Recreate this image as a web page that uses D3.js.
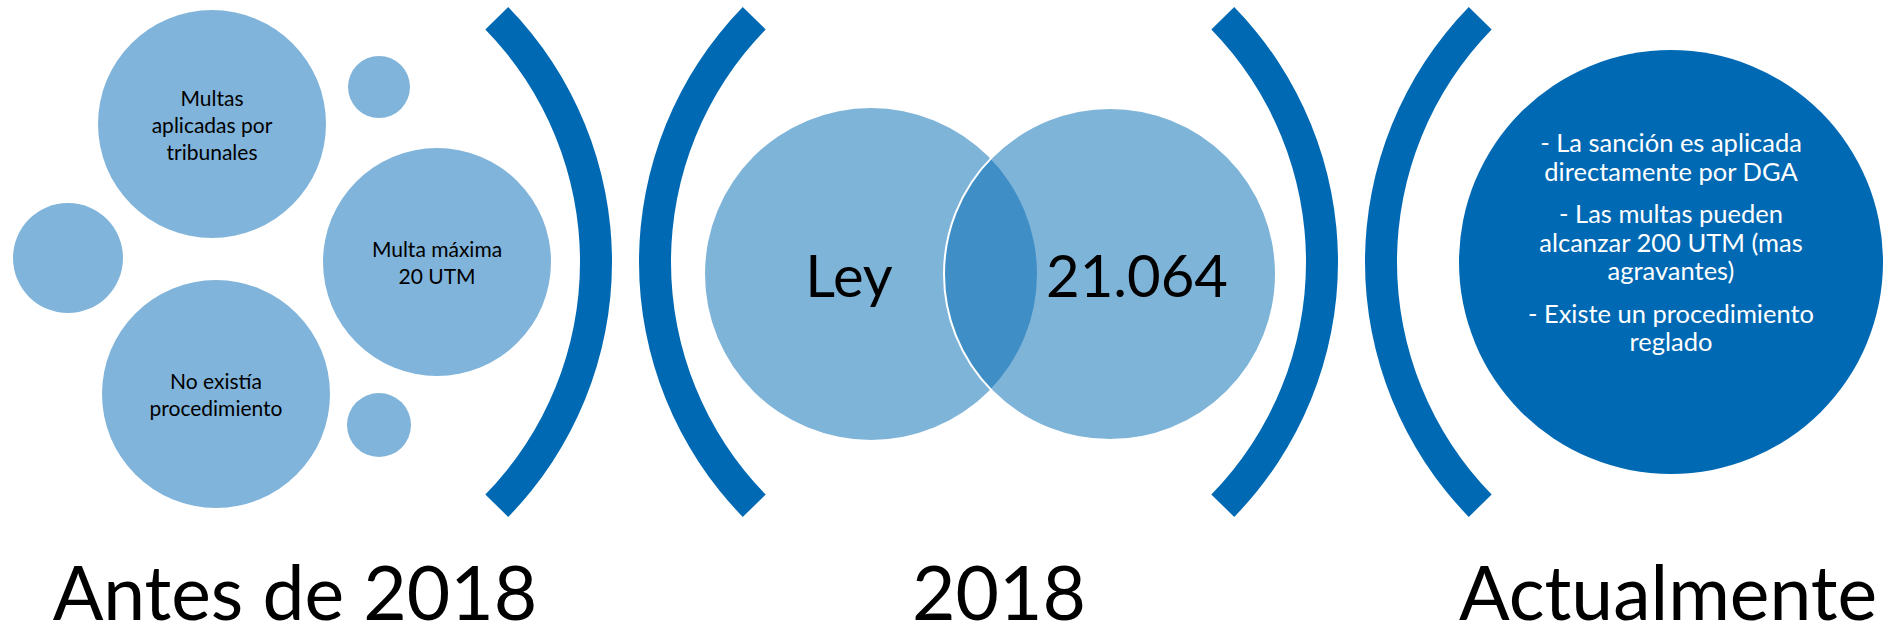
<!doctype html>
<html lang="es">
<head>
<meta charset="UTF-8">
<title>Ley 21.064 - antes y ahora</title>
<script src="https://cdn.jsdelivr.net/npm/d3@7"></script>
<style>
  html, body { margin: 0; padding: 0; background: #fff; }
  svg text { font-family: Lato, "Open Sans", sans-serif; }
</style>
</head>
<body>
<script>
// content
var stageLabels = ["Antes de 2018", "2018", "Actualmente"];
var beforeNotes = [
    ["Multas", "aplicadas por", "tribunales"],
    ["Multa máxima", "20 UTM"],
    ["No existía", "procedimiento"]
];
var lawWords = ["Ley", "21.064"];
var nowNotes = [
    ["- La sanción es aplicada", "directamente por DGA"],
    ["- Las multas pueden", "alcanzar 200 UTM (mas", "agravantes)"],
    ["- Existe un procedimiento", "reglado"]
];

var width = 1901, height = 636;
var dark = "#0069b4", light = "#80b4da";

var svg = d3.select("body").append("svg")
    .attr("width", width)
    .attr("height", height);

// columns: label centres
var stageX = d3.scaleOrdinal().domain(stageLabels).range([295, 999, 1668]);

// brackets
var bracketArc = d3.arc().innerRadius(333).outerRadius(365);
var half = 44.3 * Math.PI / 180;
var brackets = [
    {cx: 247, side: "right"},
    {cx: 1004, side: "left"},
    {cx: 973, side: "right"},
    {cx: 1730, side: "left"}
];
svg.append("g").selectAll("path")
    .data(brackets)
    .enter()
    .append("path")
        .attr("transform", function(d) { return "translate(" + d.cx + ",262)"; })
        .attr("fill", dark)
        .attr("d", function(d) {
            var mid = d.side === "right" ? Math.PI / 2 : 3 * Math.PI / 2;
            return bracketArc({startAngle: mid - half, endAngle: mid + half});
        });

// before 2018: bubbles
var bubbles = [
    {x: 212, y: 124, r: 114, note: 0},
    {x: 379, y: 87, r: 31},
    {x: 68, y: 258, r: 55},
    {x: 437, y: 262, r: 114, note: 1},
    {x: 216, y: 394, r: 114, note: 2},
    {x: 379, y: 425, r: 32}
];
var bg = svg.append("g");
bg.selectAll("circle")
    .data(bubbles)
    .enter()
    .append("circle")
        .attr("cx", function(d) { return d.x; })
        .attr("cy", function(d) { return d.y; })
        .attr("r", function(d) { return d.r; })
        .attr("fill", light);

bubbles.filter(function(d) { return d.note !== undefined; }).forEach(function(b) {
    var lines = beforeNotes[b.note];
    var lh = 27;
    bg.selectAll(null)
        .data(lines)
        .enter()
        .append("text")
            .attr("x", b.x)
            .attr("y", function(d, i) { return b.y + (i - (lines.length - 1) / 2) * lh; })
            .attr("text-anchor", "middle")
            .attr("dominant-baseline", "central")
            .attr("font-size", 21)
            .attr("fill", "#000")
            .text(function(d) { return d; });
});

// 2018: venn
var venn = [{x: 871, word: 0, tx: 849}, {x: 1110, word: 1, tx: 1137}];
var vg = svg.append("g");
vg.selectAll("circle")
    .data(venn)
    .enter()
    .append("circle")
        .attr("cx", function(d) { return d.x; })
        .attr("cy", 274)
        .attr("r", 166)
        .attr("fill", dark)
        .attr("fill-opacity", 0.5)
        .attr("stroke", function(d, i) { return i === 1 ? "#fff" : "none"; })
        .attr("stroke-width", 2);
vg.selectAll("text")
    .data(venn)
    .enter()
    .append("text")
        .attr("x", function(d) { return d.tx; })
        .attr("y", 274)
        .attr("text-anchor", "middle")
        .attr("dominant-baseline", "central")
        .attr("font-size", 58)
        .attr("fill", "#000")
        .text(function(d) { return lawWords[d.word]; });

// actualmente: big circle
var ng = svg.append("g");
ng.append("circle")
    .attr("cx", 1671)
    .attr("cy", 262)
    .attr("r", 212)
    .attr("fill", dark);

var nowLines = [];
var lineNo = 0;
nowNotes.forEach(function(p, pi) {
    p.forEach(function(t) {
        nowLines.push({text: t, y: 142 + lineNo * 28.5 + pi * 14});
        lineNo++;
    });
});
ng.selectAll("text")
    .data(nowLines)
    .enter()
    .append("text")
        .attr("x", 1671)
        .attr("y", function(d) { return d.y; })
        .attr("text-anchor", "middle")
        .attr("dominant-baseline", "central")
        .attr("font-size", 25.5)
        .attr("fill", "#fff")
        .text(function(d) { return d.text; });

// stage labels
svg.append("g").selectAll("text")
    .data(stageLabels)
    .enter()
    .append("text")
        .attr("x", function(d) { return stageX(d); })
        .attr("y", 620)
        .attr("text-anchor", "middle")
        .attr("font-size", 75)
        .attr("fill", "#000")
        .text(function(d) { return d; });
</script>
</body>
</html>
